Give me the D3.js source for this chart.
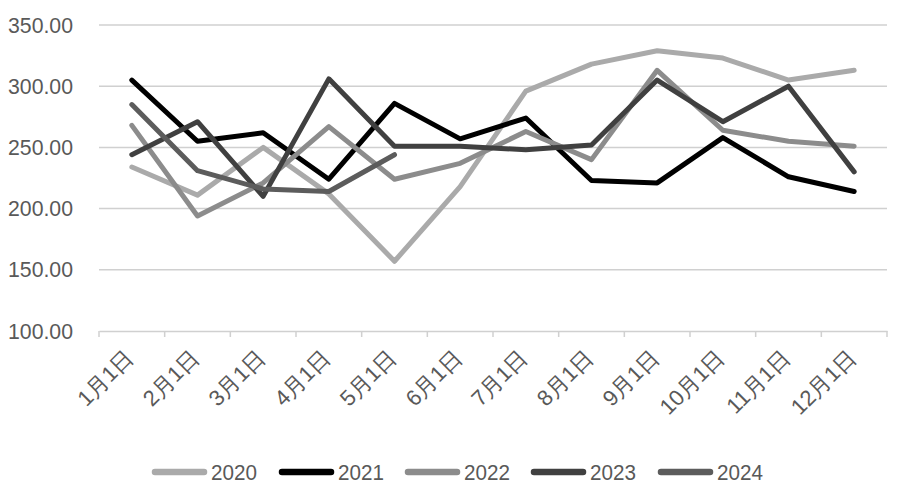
<!DOCTYPE html>
<html>
<head>
<meta charset="utf-8">
<script src="https://cdn.jsdelivr.net/npm/d3@7"></script>
<style>
  html, body { margin: 0; padding: 0; background: #fff; }
  svg { display: block; }
  text { font-family: "Liberation Sans", Arial, sans-serif; fill: #595959; }
</style>
</head>
<body>
<svg id="chart" width="900" height="494"></svg>
<script>
const months = ["1月1日","2月1日","3月1日","4月1日","5月1日","6月1日","7月1日","8月1日","9月1日","10月1日","11月1日","12月1日"];
const yTicks = [100, 150, 200, 250, 300, 350];
const seriesNames = ["2020", "2021", "2022", "2023", "2024"];
const v2020 = [234, 211, 250, 212, 157, 218, 296, 318, 329, 323, 305, 313];
const v2021 = [305, 255, 262, 224, 286, 257, 274, 223, 221, 258, 226, 214];
const v2022 = [268, 194, 221, 267, 224, 237, 263, 240, 313, 264, 255, 251];
const v2023 = [244, 271, 210, 306, 251, 251, 248, 252, 305, 271, 300, 230];
const v2024 = [285, 231, 216, 214, 244];
const seriesValues = [v2020, v2021, v2022, v2023, v2024];
const colors = ["#aaaaaa", "#000000", "#8c8c8c", "#404040", "#5c5c5c"];

const svg = d3.select("#chart");
const mLeft = 99, mRight = 887, mTop = 25, mBottom = 331;

const x = d3.scaleBand().domain(months).range([mLeft, mRight]).paddingInner(0).paddingOuter(0);
const y = d3.scaleLinear().domain([100, 350]).range([mBottom, mTop]);

// gridlines
svg.append("g").selectAll("line").data(yTicks.filter(t => t > 100)).join("line")
  .attr("x1", mLeft).attr("x2", mRight)
  .attr("y1", d => y(d)).attr("y2", d => y(d))
  .attr("stroke", "#d0d0d0").attr("stroke-width", 1.5);

// y axis labels
const yAxis = d3.axisLeft(y).tickValues(yTicks).tickFormat(d3.format(".2f")).tickSize(0).tickPadding(0);
const gy = svg.append("g").attr("transform", `translate(${mLeft - 26},0)`).call(yAxis);
gy.select(".domain").remove();
gy.selectAll("text").attr("font-size", 22).attr("fill", "#595959")
  .attr("textLength", 65).attr("lengthAdjust", "spacingAndGlyphs")
  .style("font-family", "'Liberation Sans', Arial, sans-serif");

// x axis
const xAxis = d3.axisBottom(x).tickSize(0).tickPadding(0);
const gx = svg.append("g").attr("transform", `translate(0,${mBottom})`).call(xAxis);
gx.select(".domain").attr("stroke", "#d0d0d0").attr("stroke-width", 1.5);
gx.selectAll(".tick line").remove();
// category boundary ticks
const bounds = months.map(m => x(m)).concat([mRight]);
svg.append("g").selectAll("line").data(bounds).join("line")
  .attr("x1", d => d).attr("x2", d => d)
  .attr("y1", mBottom).attr("y2", mBottom + 6)
  .attr("stroke", "#d0d0d0").attr("stroke-width", 1.5);
gx.selectAll(".tick text")
  .attr("font-size", 22).attr("fill", "#595959")
  .style("font-family", "'Liberation Sans', Arial, sans-serif")
  .attr("text-anchor", "end")
  .attr("dy", 0)
  .attr("transform", "translate(3, 28) rotate(-45)")
  .attr("x", 0).attr("y", 0);

// lines
const line = d3.line().x((d, i) => x(months[i]) + x.bandwidth() / 2).y(d => y(d));
svg.append("g").selectAll("path").data(seriesValues).join("path")
  .attr("d", d => line(d))
  .attr("fill", "none")
  .attr("stroke", (d, i) => colors[i])
  .attr("stroke-width", 5)
  .attr("stroke-linejoin", "round")
  .attr("stroke-linecap", "round");

// legend
const legendX = [152, 279, 405, 531, 658];
const legend = svg.append("g").attr("transform", "translate(0,472)");
const items = legend.selectAll("g").data(seriesNames).join("g")
  .attr("transform", (d, i) => `translate(${legendX[i]},0)`);
items.append("line").attr("x1", 3).attr("x2", 52).attr("y1", 0).attr("y2", 0)
  .attr("stroke", (d, i) => colors[i]).attr("stroke-width", 6.5).attr("stroke-linecap", "round");
items.append("text").attr("x", 59).attr("y", 7.5).attr("font-size", 22)
  .attr("textLength", 46).attr("lengthAdjust", "spacingAndGlyphs").text(d => d);
</script>
</body>
</html>
